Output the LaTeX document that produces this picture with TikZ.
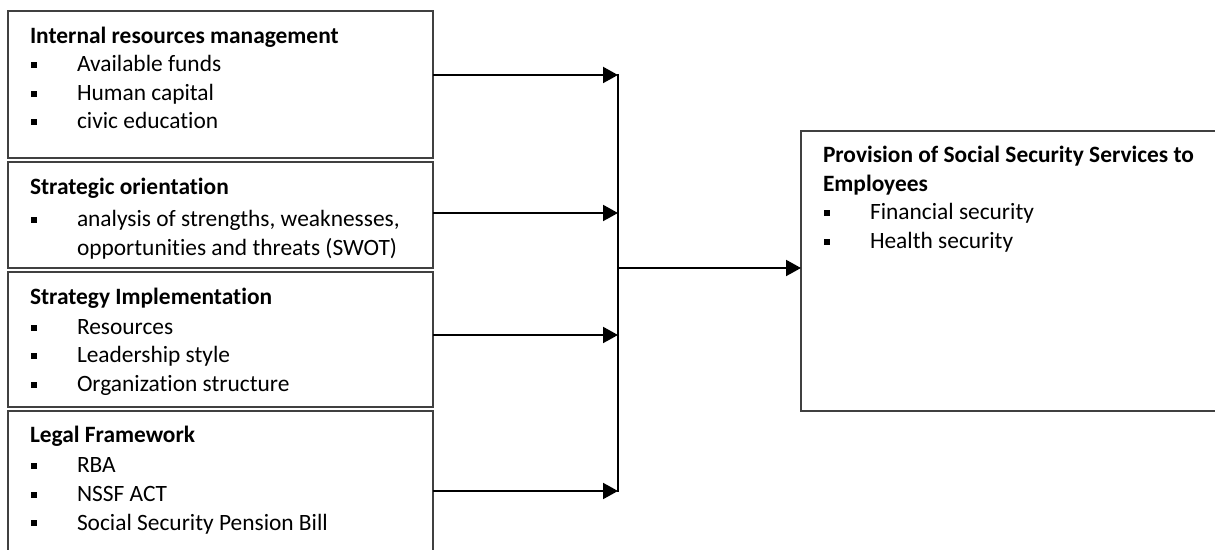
\documentclass[tikz,border=0pt]{standalone}
\usepackage{fontspec}
\setmainfont{Carlito}[Ligatures=NoCommon]
\usetikzlibrary{arrows.meta}
\newcommand{\sqbul}{\raisebox{2.1pt}{\rule{3pt}{3pt}}}
\tikzset{
  box/.style={draw=black!75, line width=0.6pt, rectangle, inner sep=0pt, outer sep=0pt, anchor=north west},
  txt/.style={anchor=base west, inner sep=0pt, outer sep=0pt, font=\fontsize{11.7}{14}\selectfont},
  ttl/.style={txt, font=\fontsize{11.7}{14}\selectfont\bfseries},
  bul/.style={anchor=base west, inner sep=0pt, outer sep=0pt, font=\fontsize{11.7}{14}\selectfont},
  arr/.style={line width=1pt, -{Triangle[length=7.5pt,width=8pt]}},
  ln/.style={line width=1pt}
}
\begin{document}
\begin{tikzpicture}[x=0.5pt,y=-0.5pt]
\useasboundingbox (0,0) rectangle (1215,550);
% boxes
\node[box, minimum width=212.5pt, minimum height=73.5pt] (b1) at (8,11) {};
\node[box, minimum width=212.5pt, minimum height=53pt] (b2) at (8,162) {};
\node[box, minimum width=212.5pt, minimum height=67.5pt] (b3) at (8,272) {};
\node[box, minimum width=212.5pt, minimum height=80pt] (b4) at (8,411) {};
\node[box, minimum width=212pt, minimum height=140pt] (out) at (801,131) {};
% box 1 text
\node[ttl] (t1) at (30,44) {Internal resources management};
\node[bul] (p1a) at (31,72) {\sqbul}; \node[txt] (i1a) at (77,72) {Available funds};
\node[bul] (p1b) at (31,101) {\sqbul}; \node[txt] (i1b) at (77,101) {Human capital};
\node[bul] (p1c) at (31,129) {\sqbul}; \node[txt] (i1c) at (77,129) {civic education};
% box 2 text
\node[ttl] (t2) at (30,195) {Strategic orientation};
\node[bul] (p2a) at (31,227) {\sqbul}; \node[txt] (i2a) at (77,227) {analysis of strengths, weaknesses,};
\node[txt] (i2b) at (77,256) {opportunities and threats (SWOT)};
% box 3 text
\node[ttl] (t3) at (30,305) {Strategy Implementation};
\node[bul] (p3a) at (31,335) {\sqbul}; \node[txt] (i3a) at (77,335) {Resources};
\node[bul] (p3b) at (31,363) {\sqbul}; \node[txt] (i3b) at (77,363) {Leadership style};
\node[bul] (p3c) at (31,392) {\sqbul}; \node[txt] (i3c) at (77,392) {Organization structure};
% box 4 text
\node[ttl] (t4) at (30,443) {Legal Framework};
\node[bul] (p4a) at (31,473) {\sqbul}; \node[txt] (i4a) at (77,473) {RBA};
\node[bul] (p4b) at (31,502) {\sqbul}; \node[txt] (i4b) at (77,502) {NSSF ACT};
\node[bul] (p4c) at (31,530) {\sqbul}; \node[txt] (i4c) at (77,530) {Social Security Pension Bill};
% right box text
\node[ttl] (t5) at (823,163) {Provision of Social Security Services to};
\node[ttl] (t5b) at (823,192) {Employees};
\node[bul] (p5a) at (824,220) {\sqbul}; \node[txt] (i5a) at (870,220) {Financial security};
\node[bul] (p5b) at (824,249) {\sqbul}; \node[txt] (i5b) at (870,249) {Health security};
% connectors
\coordinate (j1) at (618,75);
\coordinate (j2) at (618,213);
\coordinate (j3) at (618,335);
\coordinate (j4) at (618,491);
\coordinate (jo) at (618,268);
\draw[arr] (b1.east |- j1) -- (j1);
\draw[arr] (b2.east |- j2) -- (j2);
\draw[arr] (b3.east |- j3) -- (j3);
\draw[arr] (b4.east |- j4) -- (j4);
\draw[ln] ([yshift=0.5pt]j1) -- ([yshift=-0.5pt]j4);
\draw[arr] (jo) -- (out.west |- jo);
\end{tikzpicture}
\end{document}
